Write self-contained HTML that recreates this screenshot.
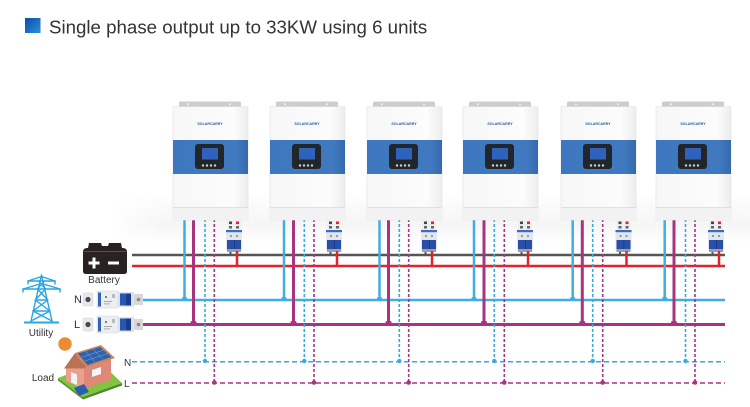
<!DOCTYPE html>
<html><head><meta charset="utf-8"><style>
html,body{margin:0;padding:0;background:#fff;}
svg{display:block;}
</style></head><body>
<svg width="750" height="407" viewBox="0 0 750 407" xmlns="http://www.w3.org/2000/svg" font-family="'Liberation Sans', Arial, sans-serif">
<defs>
<linearGradient id="sq" x1="0" y1="0" x2="1" y2="1"><stop offset="0" stop-color="#0a4ea6"/><stop offset="1" stop-color="#2a8fdc"/></linearGradient>
<linearGradient id="bodyg" x1="0" y1="0" x2="1" y2="0"><stop offset="0" stop-color="#f7f7f7"/><stop offset="0.8" stop-color="#fcfcfc"/><stop offset="1" stop-color="#ededed"/></linearGradient>
<linearGradient id="bandg" x1="0" y1="0" x2="1" y2="0"><stop offset="0" stop-color="#3d77bf"/><stop offset="0.85" stop-color="#4079bf"/><stop offset="1" stop-color="#3469ad"/></linearGradient>
<linearGradient id="shv" x1="0" y1="0" x2="0" y2="1"><stop offset="0" stop-color="#eeeeee" stop-opacity="0"/><stop offset="0.6" stop-color="#efefef" stop-opacity="0.6"/><stop offset="1" stop-color="#f6f6f6" stop-opacity="0"/></linearGradient>
<linearGradient id="shh" x1="0" y1="0" x2="1" y2="0"><stop offset="0" stop-color="#fff" stop-opacity="0"/><stop offset="0.08" stop-color="#fff" stop-opacity="1"/><stop offset="1" stop-color="#fff" stop-opacity="1"/></linearGradient>
<mask id="shm"><rect x="110" y="180" width="640" height="75" fill="url(#shh)"/></mask>

<g id="inv">
 <rect x="6" y="101.5" width="62" height="6" rx="1.5" fill="#cdcdcd"/>
 <circle cx="15" cy="104.3" r="1" fill="#f4f4f4"/>
 <circle cx="57" cy="104.3" r="1" fill="#f4f4f4"/>
 <rect x="0" y="106.7" width="75" height="113.3" fill="url(#bodyg)" stroke="#e1e1e1" stroke-width="0.6"/>
 <rect x="0" y="140" width="75" height="34" fill="url(#bandg)"/>
 <rect x="22" y="144" width="29" height="25" rx="3" fill="#22252a"/>
 <rect x="29" y="148" width="16" height="11.5" fill="#2f63bb"/>
 <circle cx="30" cy="165.5" r="1.2" fill="#cfcfcf"/>
 <circle cx="34" cy="165.5" r="1.2" fill="#cfcfcf"/>
 <circle cx="38" cy="165.5" r="1.2" fill="#cfcfcf"/>
 <circle cx="42" cy="165.5" r="1.2" fill="#cfcfcf"/>
 <rect x="0" y="207.5" width="75" height="12.5" fill="#f2f2f2"/>
 <line x1="0" y1="207.5" x2="75" y2="207.5" stroke="#d9d9d9" stroke-width="0.7"/>
</g>

<g id="brk">
 <rect x="1" y="220" width="14" height="10" fill="#efefef"/>
 <rect x="3" y="221.5" width="3" height="2.6" fill="#444"/>
 <rect x="10" y="221.5" width="3" height="2.6" fill="#e0262b"/>
 <rect x="3" y="226" width="3" height="2.5" fill="#666"/>
 <rect x="10" y="226" width="3" height="2.5" fill="#666"/>
 <rect x="0" y="230" width="16" height="21" rx="1" fill="#e2e6ed"/>
 <rect x="0" y="230" width="16" height="2.2" fill="#3b6cc4"/>
 <circle cx="5" cy="236" r="1.1" fill="#8a93a3"/>
 <circle cx="11" cy="236" r="1.1" fill="#8a93a3"/>
 <rect x="1" y="240" width="14" height="9" fill="#2850a8"/>
 <rect x="8" y="240" width="0.8" height="9" fill="#1a3580"/>
 <rect x="1" y="249" width="14" height="3" fill="#9aa0a8"/>
 <line x1="4.5" y1="252" x2="4.5" y2="256" stroke="#555" stroke-width="2"/>
 <line x1="11" y1="251" x2="11" y2="267" stroke="#e3222b" stroke-width="2.5"/>
</g>

<g id="ubrk">
 <rect x="83" y="2" width="10" height="13" rx="1.5" fill="#e8e8e8" stroke="#d0d0d0" stroke-width="0.5"/>
 <circle cx="88" cy="8.5" r="2.6" fill="#4a4a4a"/>
 <rect x="97" y="0" width="21" height="17" fill="#eceef2" stroke="#cfd3da" stroke-width="0.5"/>
 <rect x="98" y="1.5" width="3" height="14" fill="#3560b8"/>
 <circle cx="106" cy="6" r="0.9" fill="#333"/>
 <rect x="104" y="10" width="8" height="0.8" fill="#999"/>
 <rect x="104" y="12.5" width="6" height="0.8" fill="#999"/>
 <rect x="112" y="3" width="3" height="4" fill="#bbb"/>
 <rect x="118" y="1" width="16" height="15" fill="#dde1e8"/>
 <rect x="120" y="2.5" width="11" height="12" fill="#2a55b5"/>
 <rect x="126" y="2.5" width="5" height="12" fill="#1a3c8e"/>
 <rect x="134" y="3" width="9" height="11" fill="#d8d8d8"/>
 <circle cx="138.5" cy="8.5" r="1.8" fill="#888"/>
</g>
</defs>

<rect width="750" height="407" fill="#fff"/>

<!-- title -->
<rect x="25" y="18" width="15.5" height="15" fill="url(#sq)"/>
<text x="49" y="33.5" font-size="18.7" fill="#333">Single phase output up to 33KW using 6 units</text>

<!-- soft shadow behind products -->
<rect x="110" y="190" width="640" height="58" fill="url(#shv)" mask="url(#shm)"/>

<!-- horizontal buses -->
<line x1="132" y1="255" x2="725" y2="255" stroke="#555" stroke-width="2.5"/>
<line x1="132" y1="266" x2="725" y2="266" stroke="#e3222b" stroke-width="2.5"/>
<line x1="143" y1="300" x2="725" y2="300" stroke="#40aee3" stroke-width="2.5"/>
<line x1="143" y1="324.5" x2="725" y2="324.5" stroke="#a8347f" stroke-width="3"/>
<line x1="132" y1="361.7" x2="725" y2="361.7" stroke="#3aa8e0" stroke-width="1.5" stroke-dasharray="5 3"/>
<line x1="132" y1="383" x2="725" y2="383" stroke="#a8347f" stroke-width="1.5" stroke-dasharray="5 3"/>

<!-- vertical wires -->
<g stroke="#40aee3" stroke-width="2.5">
 <line x1="184.5" y1="219" x2="184.5" y2="300"/>
 <line x1="284" y1="219" x2="284" y2="300"/>
 <line x1="379.5" y1="219" x2="379.5" y2="300"/>
 <line x1="474" y1="219" x2="474" y2="300"/>
 <line x1="572.7" y1="219" x2="572.7" y2="300"/>
 <line x1="664.7" y1="219" x2="664.7" y2="300"/>
</g>
<g stroke="#a8347f" stroke-width="3">
 <line x1="193.5" y1="219" x2="193.5" y2="325"/>
 <line x1="293.5" y1="219" x2="293.5" y2="325"/>
 <line x1="388.5" y1="219" x2="388.5" y2="325"/>
 <line x1="484" y1="219" x2="484" y2="325"/>
 <line x1="582.3" y1="219" x2="582.3" y2="325"/>
 <line x1="674" y1="219" x2="674" y2="325"/>
</g>
<g stroke="#3aa8e0" stroke-width="1.6" stroke-dasharray="3 2">
 <line x1="205" y1="219" x2="205" y2="362"/>
 <line x1="304.3" y1="219" x2="304.3" y2="362"/>
 <line x1="399.3" y1="219" x2="399.3" y2="362"/>
 <line x1="494.3" y1="219" x2="494.3" y2="362"/>
 <line x1="592.7" y1="219" x2="592.7" y2="362"/>
 <line x1="685.5" y1="219" x2="685.5" y2="362"/>
</g>
<g stroke="#a8347f" stroke-width="1.6" stroke-dasharray="3 2">
 <line x1="214.3" y1="219" x2="214.3" y2="383"/>
 <line x1="314" y1="219" x2="314" y2="383"/>
 <line x1="408.7" y1="219" x2="408.7" y2="383"/>
 <line x1="504.3" y1="219" x2="504.3" y2="383"/>
 <line x1="602.7" y1="219" x2="602.7" y2="383"/>
 <line x1="695" y1="219" x2="695" y2="383"/>
</g>

<!-- junction markers -->
<g fill="#40aee3">
 <rect x="182" y="297" width="5" height="4" rx="1.5"/>
 <rect x="281.5" y="297" width="5" height="4" rx="1.5"/>
 <rect x="377" y="297" width="5" height="4" rx="1.5"/>
 <rect x="471.5" y="297" width="5" height="4" rx="1.5"/>
 <rect x="570.2" y="297" width="5" height="4" rx="1.5"/>
 <rect x="662.2" y="297" width="5" height="4" rx="1.5"/>
</g>
<g fill="#a8347f">
 <rect x="190.5" y="321" width="6" height="4.5" rx="1.5"/>
 <rect x="290.5" y="321" width="6" height="4.5" rx="1.5"/>
 <rect x="385.5" y="321" width="6" height="4.5" rx="1.5"/>
 <rect x="481" y="321" width="6" height="4.5" rx="1.5"/>
 <rect x="579.3" y="321" width="6" height="4.5" rx="1.5"/>
 <rect x="671" y="321" width="6" height="4.5" rx="1.5"/>
</g>
<g fill="#3aa8e0">
 <circle cx="205" cy="361" r="2.2"/><circle cx="304.3" cy="361" r="2.2"/><circle cx="399.3" cy="361" r="2.2"/>
 <circle cx="494.3" cy="361" r="2.2"/><circle cx="592.7" cy="361" r="2.2"/><circle cx="685.5" cy="361" r="2.2"/>
</g>
<g fill="#a8347f">
 <circle cx="214.3" cy="382.5" r="2.3"/><circle cx="314" cy="382.5" r="2.3"/><circle cx="408.7" cy="382.5" r="2.3"/>
 <circle cx="504.3" cy="382.5" r="2.3"/><circle cx="602.7" cy="382.5" r="2.3"/><circle cx="695" cy="382.5" r="2.3"/>
</g>

<!-- inverters -->
<use href="#inv" x="173"/>
<use href="#inv" x="270"/>
<use href="#inv" x="367"/>
<use href="#inv" x="463"/>
<use href="#inv" x="561"/>
<use href="#inv" x="656"/>
<g font-size="3.6" font-weight="bold" fill="#2c5aa0" text-anchor="middle">
 <text x="210" y="125">SOLARCARRY</text>
 <text x="307" y="125">SOLARCARRY</text>
 <text x="404" y="125">SOLARCARRY</text>
 <text x="500" y="125">SOLARCARRY</text>
 <text x="598" y="125">SOLARCARRY</text>
 <text x="693" y="125">SOLARCARRY</text>
</g>

<!-- breakers -->
<use href="#brk" x="226"/>
<use href="#brk" x="326"/>
<use href="#brk" x="421"/>
<use href="#brk" x="517"/>
<use href="#brk" x="615.5"/>
<use href="#brk" x="708"/>

<!-- battery -->
<path d="M83,252 Q83,248.5 86.5,248 L88,248 L89,243 L101,243 L102,246 L108,246 L109,243 L121,243 L122,248 L123.5,248 Q127,248.5 127,252 L127,271 Q127,274 124,274 L86,274 Q83,274 83,271 Z" fill="#2a2220"/>
<line x1="84" y1="251.5" x2="126" y2="251.5" stroke="#6b5f5a" stroke-width="0.7"/>
<rect x="88.5" y="261.5" width="11" height="3" fill="#fff"/>
<rect x="92.5" y="257.5" width="3" height="11" fill="#fff"/>
<rect x="108" y="261.5" width="11" height="3" fill="#fff"/>
<text x="104" y="283" font-size="10" fill="#333" text-anchor="middle">Battery</text>

<!-- utility tower -->
<g stroke="#2aa6e0" stroke-width="1.4" fill="none" stroke-linecap="round">
 <line x1="41.5" y1="275" x2="31" y2="321"/>
 <line x1="41.5" y1="275" x2="52" y2="321"/>
 <line x1="28" y1="281" x2="55" y2="281"/>
 <line x1="28" y1="281" x2="40" y2="277"/>
 <line x1="55" y1="281" x2="43" y2="277"/>
 <line x1="23" y1="289" x2="60" y2="289"/>
 <line x1="23" y1="289" x2="38" y2="284.5"/>
 <line x1="60" y1="289" x2="45" y2="284.5"/>
 <line x1="28" y1="281" x2="28" y2="284"/>
 <line x1="55" y1="281" x2="55" y2="284"/>
 <line x1="23" y1="289" x2="23" y2="292"/>
 <line x1="60" y1="289" x2="60" y2="292"/>
 <line x1="38.6" y1="281" x2="45.6" y2="289"/>
 <line x1="44.4" y1="281" x2="37.4" y2="289"/>
 <line x1="37.4" y1="289" x2="47.8" y2="300"/>
 <line x1="45.6" y1="289" x2="35.2" y2="300"/>
 <line x1="35.2" y1="300" x2="47.8" y2="300"/>
 <line x1="35.2" y1="300" x2="50" y2="311"/>
 <line x1="47.8" y1="300" x2="33" y2="311"/>
 <line x1="33" y1="311" x2="50" y2="311"/>
 <line x1="33" y1="311" x2="52" y2="321"/>
 <line x1="50" y1="311" x2="31" y2="321"/>
</g>
<line x1="24" y1="322.5" x2="59" y2="322.5" stroke="#2aa6e0" stroke-width="1.9"/>
<text x="41" y="336" font-size="10" fill="#333" text-anchor="middle">Utility</text>

<!-- N / L grid breakers -->
<text x="74" y="303" font-size="11" fill="#2a3448">N</text>
<text x="74" y="328" font-size="11" fill="#2a3448">L</text>
<use href="#ubrk" y="291"/>
<use href="#ubrk" y="316"/>

<!-- sun -->
<circle cx="65" cy="344" r="6.7" fill="#ec8c31"/>

<!-- house -->
<polygon points="58,378 100,362 122,383 83,397" fill="#82c341"/>
<polygon points="58,378 83,397 83,399.5 58,380.5" fill="#5a9a2e"/>
<polygon points="83,397 122,383 122,385.5 83,399.5" fill="#4a8a25"/>
<polygon points="66,367 75,356 84,364 84,389 66,381" fill="#eba08f"/>
<polygon points="84,364 111,356 111,380 84,389" fill="#de8878"/>
<polygon points="75,353 101,345 115,358 86,367" fill="#c9865e"/>
<polygon points="78,353.5 100,347 111.5,357 87.5,365" fill="#2f62ad"/>
<g stroke="#9fb9e0" stroke-width="0.4">
 <line x1="82" y1="357" x2="104" y2="350"/>
 <line x1="85" y1="361" x2="108" y2="353.5"/>
 <line x1="85.5" y1="351" x2="95" y2="362"/>
 <line x1="93" y1="349" x2="103" y2="359.5"/>
</g>
<polygon points="75,353 86,367 84,368.5 64,368.5" fill="#b97352"/>
<polygon points="71,372 77,374.5 77,385 71,382.5" fill="#f4f4f4"/>
<polygon points="92,370 101,367 101,374 92,377" fill="#f5f5f5"/>
<polygon points="74,388 84,384 89,392 79,396" fill="#2c5fae"/>
<text x="43" y="381" font-size="10" fill="#333" text-anchor="middle">Load</text>

<!-- dashed N / L labels -->
<text x="124" y="366" font-size="10" fill="#2a3448">N</text>
<text x="124" y="387" font-size="10" fill="#2a3448">L</text>
</svg>
</body></html>
